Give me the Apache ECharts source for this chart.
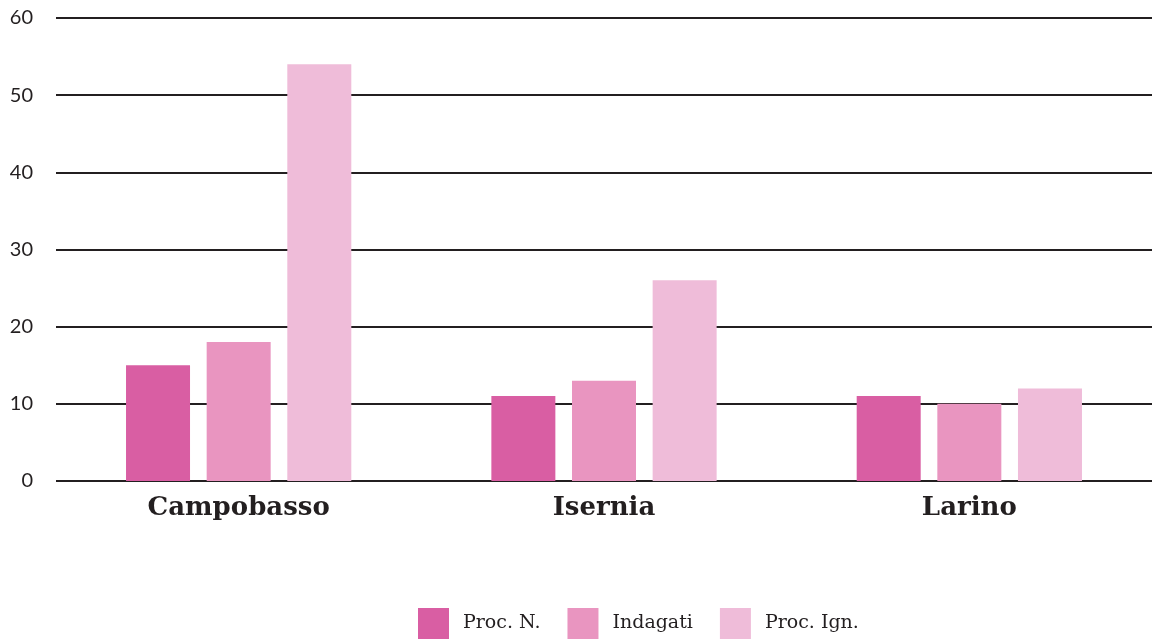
<!DOCTYPE html>
<html>
<head>
<meta charset="utf-8">
<script src="https://cdn.jsdelivr.net/npm/echarts@6/dist/echarts.min.js"></script>
<style>
  html, body { margin: 0; padding: 0; background: #fff; }
  #chart { width: 1152px; height: 639px; }
</style>
</head>
<body>
<div id="chart"></div>
<script>
// Courts of Molise
const categories = ['Campobasso', 'Isernia', 'Larino'];
const seriesNames = ['Proc. N.', 'Indagati', 'Proc. Ign.'];
const procN = [15, 11, 11];
const indagati = [18, 13, 10];
const procIgn = [54, 26, 12];
const colors = ['#d95ea3', '#e995c0', '#efbcd9'];

const values = [procN, indagati, procIgn];

const chart = echarts.init(document.getElementById('chart'));
chart.setOption({
  animation: false,
  color: colors,
  grid: { left: 56, right: -2, top: 18, bottom: 158, containLabel: false },
  legend: {
    top: 608,
    left: 418,
    padding: 0,
    itemWidth: 31,
    itemHeight: 31,
    itemGap: 27,
    icon: 'rect',
    textStyle: { fontFamily: 'DejaVu Serif', fontSize: 19, color: '#231f20', padding: [0, 0, 0, 9] },
    data: seriesNames
  },
  xAxis: {
    type: 'category',
    data: categories,
    axisLine: { show: false },
    axisTick: { show: false },
    axisLabel: {
      margin: 14,
      fontFamily: 'DejaVu Serif',
      fontWeight: 'bold',
      fontSize: 26,
      color: '#231f20'
    }
  },
  yAxis: {
    type: 'value',
    min: 0,
    max: 60,
    interval: 10,
    axisLine: { show: false },
    axisTick: { show: false },
    axisLabel: {
      margin: 23,
      fontFamily: 'Lato',
      fontSize: 20,
      color: '#231f20'
    },
    splitLine: { lineStyle: { color: '#231f20', width: 2 } }
  },
  series: seriesNames.map((name, i) => ({
    name,
    type: 'bar',
    data: values[i],
    barWidth: 64,
    barGap: '26%',
    z: 3
  }))
});
</script>
</body>
</html>
